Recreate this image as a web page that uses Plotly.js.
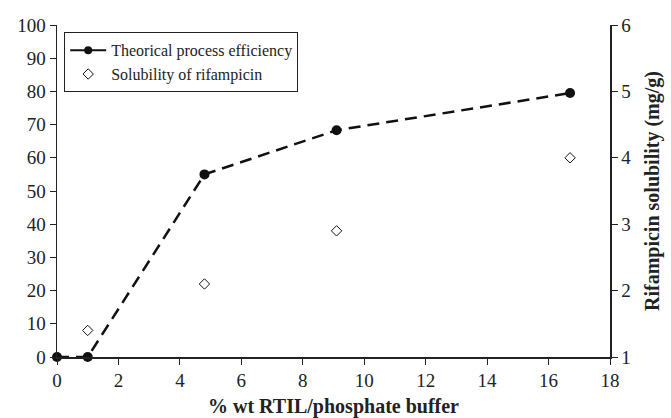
<!DOCTYPE html>
<html><head><meta charset="utf-8">
<script src="https://cdn.plot.ly/plotly-3.0.1.min.js"></script>
<style>body{margin:0;background:#fff}#c{width:671px;height:418px}</style>
</head><body><div id="c"></div>
<script>
const effX = [0, 1, 4.8, 9.1, 16.7];
const effY = [0, 0, 55, 68.3, 79.5];
const solX = [1, 4.8, 9.1, 16.7];
const solY = [1.4, 2.1, 2.9, 4.0];
const xTicks = [0, 2, 4, 6, 8, 10, 12, 14, 16, 18];

const fam = '"Times New Roman", "Liberation Serif", Times, serif';
const f = (s) => ({family: fam, size: s, color: '#222'});
const traces = [
  {x: effX, y: effY, mode: 'lines+markers', name: 'Theorical process efficiency', showlegend: false,
   cliponaxis: false,
   line: {color: '#111', width: 2.5, dash: '12px,7px'}, marker: {color: '#111', size: 10}},
  {x: [null], y: [null], mode: 'lines+markers', name: 'Theorical process efficiency',
   line: {color: '#111', width: 2}, marker: {color: '#111', size: 8}},
  {x: solX, y: solY, yaxis: 'y2', mode: 'markers', name: 'Solubility of rifampicin', cliponaxis: false,
   marker: {symbol: 'diamond-open', color: '#111', size: 8, line: {width: 1}}}
];
const layout = {
  width: 671, height: 418,
  margin: {l: 57, r: 61, t: 25, b: 61},
  paper_bgcolor: '#fff', plot_bgcolor: '#fff',
  font: f(19),
  showlegend: true,
  legend: {x: 0.013, y: 0.978, xanchor: 'left', yanchor: 'top', bgcolor: '#fff',
           bordercolor: '#222', borderwidth: 1, font: f(16),
           tracegroupgap: 0, itemwidth: 36},
  xaxis: {range: [0, 18], tickvals: xTicks, showgrid: false, zeroline: false,
          showline: true, linecolor: '#222', linewidth: 1.5, ticks: 'outside', ticklen: 6,
          tickcolor: '#222', tickfont: f(19),
          title: {text: '<b>% wt RTIL/phosphate buffer</b>', font: f(20), standoff: 12}},
  yaxis: {range: [0, 100], dtick: 10, showgrid: false, zeroline: false,
          showline: true, linecolor: '#222', linewidth: 1.5, ticks: 'outside', ticklen: 6,
          tickcolor: '#222', tickfont: f(19)},
  yaxis2: {range: [1, 6], dtick: 1, overlaying: 'y', side: 'right', showgrid: false, zeroline: false,
           showline: true, linecolor: '#222', linewidth: 1.5, ticks: 'outside', ticklen: 6,
           tickcolor: '#222', tickfont: f(19),
           title: {text: '<b>Rifampicin solubility (mg/g)</b>', font: f(20), standoff: 14}}
};
Plotly.newPlot('c', traces, layout, {displayModeBar: false, staticPlot: true});
</script></body></html>
